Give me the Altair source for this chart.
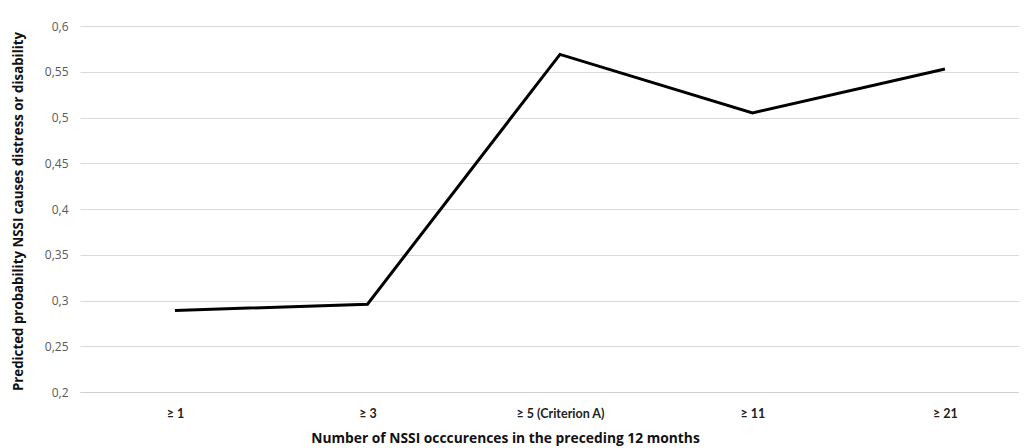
import altair as alt
import pandas as pd

categories = ["≥ 1", "≥ 3", "≥ 5 (Criterion A)", "≥ 11", "≥ 21"]
values = [0.289, 0.296, 0.569, 0.505, 0.553]
y_ticks = [0.2, 0.25, 0.3, 0.35, 0.4, 0.45, 0.5, 0.55, 0.6]

df = pd.DataFrame({"cat": categories, "val": values})

FONT = "Lato"
TFONT = "Open Sans"

chart = alt.Chart(df).mark_line(color="black", strokeWidth=3).encode(
    x=alt.X(
        "cat:N",
        sort=categories,
        scale=alt.Scale(type="point", padding=0.439, align=0.562),
        axis=alt.Axis(
            title="Number of NSSI occcurences in the preceding 12 months",
            labelAngle=0,
            ticks=False,
            grid=False,
            domainColor="#d0d0d0",
            domainWidth=1,
            labelPadding=15,
            labelBaseline="top",
            labelFont=FONT,
            labelFontSize=12.5,
            labelFontWeight="bold",
            labelColor="#222222",
            titleFont=TFONT,
            titleFontSize=13.8,
            titleFontWeight="bold",
            titleColor="#111111",
            titleX=425,
            titleY=46,
            titleAnchor="middle",
            titleAlign="center",
            titleBaseline="middle",
        ),
    ),
    y=alt.Y(
        "val:Q",
        scale=alt.Scale(domain=[0.2, 0.6], nice=False, zero=False),
        axis=alt.Axis(
            values=y_ticks,
            labelExpr="replace(format(datum.value, '.2~f'), '.', ',')",
            title="Predicted probability NSSI causes distress or disability",
            domain=False,
            ticks=False,
            gridColor="#d9d9d9",
            gridWidth=1,
            labelPadding=12,
            labelFont=TFONT,
            labelFontSize=12,
            labelColor="#595959",
            titleFont=TFONT,
            titleFontSize=13.3,
            titleFontWeight="bold",
            titleColor="#111111",
            titleX=-62,
            titleY=185,
            titleAngle=270,
            titleAlign="center",
            titleBaseline="middle",
        ),
    ),
).properties(
    width=939,
    height=366,
    autosize=alt.AutoSizeParams(type="none"),
    padding={"left": 72, "top": 18, "right": 0, "bottom": 54},
).configure(background="white").configure_view(stroke=None)

chart.save("out.html", embed_options={"renderer": "svg", "actions": False})
